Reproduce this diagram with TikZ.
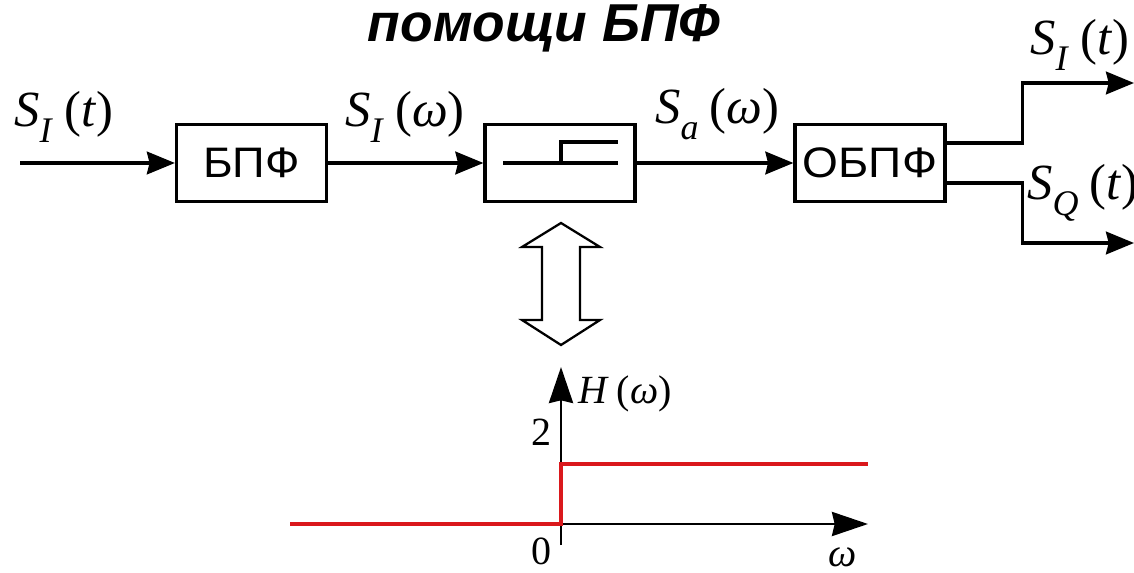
\documentclass[tikz,border=0pt]{standalone}
\usepackage{fontspec}
\usepackage{graphicx}
\setmainfont{Liberation Sans}
\newfontfamily\tms{Liberation Serif}
\usetikzlibrary{arrows.meta}
\definecolor{stepred}{RGB}{218,24,28}

% signal label: letter, subscript, argument
\newcommand\sig[3]{{\tms\fontsize{38}{38}\selectfont\textit{#1}\raisebox{-0.3em}{\fontsize{27}{27}\selectfont\textit{#2}}\kern0.22em(\textit{#3})}}
\newcommand\gfont{\tms\fontsize{30}{30}\selectfont}

\begin{document}
\begin{tikzpicture}[x=0.75pt,y=-0.75pt,
  blk/.style={draw, line width=2.4pt, minimum width=112.5pt, minimum height=57.75pt,
    inner sep=0pt, font=\fontsize{32}{32}\selectfont},
  sigline/.style={line width=2.5pt, -{Stealth[length=21pt,width=17pt,inset=2pt]}},
  wire/.style={line width=2.3pt},
  axis/.style={line width=2.2pt, -{Stealth[length=27pt,width=18pt,inset=2pt]}},
  resp/.style={line width=2.6pt, draw=stepred},
  lbl/.style={inner sep=0pt, anchor=base west}]
\useasboundingbox (0,0) rectangle (1134,573);

% title
\node[anchor=base, inner sep=0pt, font=\bfseries\itshape\fontsize{40}{40}\selectfont] (title) at (544,42) {помощи БПФ};

% processing chain
\node[blk] (bpf) at (251.5,163) {\scalebox{1.06}[1]{БПФ}};
\node[blk] (flt) at (560,163) {};
\node[blk] (obpf) at (870,163) {\scalebox{1.08}[1]{ОБПФ}};

\coordinate (in) at (20,163);
\coordinate (o1) at (1134,83);
\coordinate (o2) at (1134,243);

\draw[sigline] (in) -- (bpf);
\draw[sigline] (bpf) -- (flt);
\draw[sigline] (flt) -- (obpf);
\draw[sigline] ([yshift=15pt]obpf.east) -- ++(76,0) |- (o1);
\draw[sigline] ([yshift=-15pt]obpf.east) -- ++(76,0) |- (o2);

% step symbol inside the filter block
\draw[wire] (503,163) -- (618,163);
\draw[wire] (561,163) -- (561,142) -- (618,142);

% signal labels
\node[lbl] (lin)  at (14,127)   {\sig{S}{I}{t}};
\node[lbl] (lfft) at (345,127)  {\sig{S}{I}{ω}};
\node[lbl] (lan)  at (655,124)  {\sig{S}{a}{ω}};
\node[lbl] (li)   at (1030,55)  {\sig{S}{I}{t}};
\node[lbl] (lq)   at (1027,200) {\sig{S}{Q}{t}};

% hollow double arrow
\draw[line width=1.7pt, fill=white, line join=miter]
  (561,223) -- (600,247) -- (580,247) -- (580,320) -- (600,320) -- (561,345)
  -- (522,320) -- (542,320) -- (542,247) -- (522,247) -- cycle;

% frequency response
\coordinate (O) at (561,524);
\draw[axis] (561,545) -- (561,367);
\draw[axis] (O) -- (868,524);
\draw[resp] (290,524) -- (O) -- (561,464) -- (868,464);

\node[lbl] (hw) at (578,403) {\gfont\textit{H}\kern0.2em(\textit{ω})};
\node[inner sep=0pt] (two) at (541,432) {\gfont 2};
\node[inner sep=0pt] (zero) at (541,551) {\gfont 0};
\node[inner sep=0pt] (w) at (843,557) {\gfont\textit{ω}};
\end{tikzpicture}
\end{document}
